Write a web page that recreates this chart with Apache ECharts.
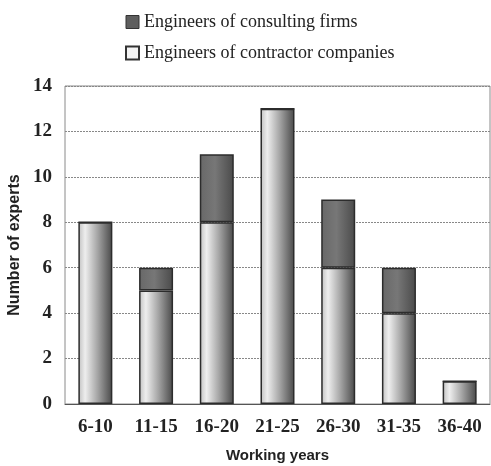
<!DOCTYPE html>
<html>
<head>
<meta charset="utf-8">
<script src="https://cdn.jsdelivr.net/npm/echarts@6/dist/echarts.min.js"></script>
<style>
  html, body { margin: 0; padding: 0; background: #fff; }
  #chart { width: 491px; height: 466px; }
</style>
</head>
<body>
<div id="chart"></div>
<script>
// Working-year groups on the x axis
const categories = ['6-10', '11-15', '16-20', '21-25', '26-30', '31-35', '36-40'];
// Number of experts in each group
const contractorValues = [8, 5, 8, 13, 6, 4, 1];
const consultingValues = [0, 1, 3, 0, 3, 2, 0];
const seriesNames = ['Engineers of consulting firms', 'Engineers of contractor companies'];
const yTicks = { min: 0, max: 14, interval: 2 };

const serif = '"Liberation Serif", "Times New Roman", serif';
const sans = '"Liberation Sans", Arial, sans-serif';

const lightFill = new echarts.graphic.LinearGradient(0, 0, 1, 0, [
  { offset: 0, color: '#c0c0c0' },
  { offset: 0.2, color: '#eeeeee' },
  { offset: 0.55, color: '#a8a8a8' },
  { offset: 1, color: '#484848' }
]);
const darkFill = new echarts.graphic.LinearGradient(0, 0, 1, 0, [
  { offset: 0, color: '#686868' },
  { offset: 0.45, color: '#777777' },
  { offset: 1, color: '#4a4a4a' }
]);

const chart = echarts.init(document.getElementById('chart'), null, { renderer: 'canvas' });
chart.setOption({
  animation: false,
  backgroundColor: '#ffffff',
  legend: {
    orient: 'vertical',
    left: 120,
    top: 8,
    itemWidth: 13,
    itemHeight: 13,
    itemGap: 13,
    textStyle: { fontFamily: serif, fontSize: 18, color: '#222' },
    data: [
      { name: seriesNames[0], icon: 'rect', itemStyle: { color: '#5e5e5e', borderColor: '#333', borderWidth: 1 } },
      { name: seriesNames[1], icon: 'rect', itemStyle: { color: '#f4f4f4', borderColor: '#333', borderWidth: 2 } }
    ]
  },
  grid: {
    left: 65, right: 1, top: 86, bottom: 62,
    outerBoundsMode: 'none',
    containLabel: false,
    show: true, borderColor: '#8a8a8a', borderWidth: 1
  },
  xAxis: {
    type: 'category',
    data: categories,
    name: 'Working years',
    nameLocation: 'middle',
    nameGap: 44,
    nameTextStyle: { fontFamily: sans, fontSize: 15, fontWeight: 'bold', color: '#222' },
    axisLine: { show: true, lineStyle: { color: '#555', width: 1 } },
    axisTick: { show: false },
    axisLabel: { fontFamily: serif, fontSize: 19, fontWeight: 'bold', color: '#222', margin: 14 }
  },
  yAxis: {
    type: 'value',
    min: yTicks.min, max: yTicks.max, interval: yTicks.interval,
    name: 'Number of experts',
    nameLocation: 'middle',
    nameGap: 35,
    nameTextStyle: { fontFamily: sans, fontSize: 16, fontWeight: 'bold', color: '#222' },
    axisLine: { show: false },
    axisTick: { show: false },
    axisLabel: { fontFamily: serif, fontSize: 19, fontWeight: 'bold', color: '#222', margin: 13 },
    splitLine: { show: true, lineStyle: { color: '#888', type: [2, 1], width: 1 } }
  },
  series: [
    {
      name: seriesNames[1],
      type: 'bar',
      stack: 'experts',
      barWidth: '56%',
      data: contractorValues,
      itemStyle: { color: lightFill, borderColor: '#2c2c2c', borderWidth: 1.5 }
    },
    {
      name: seriesNames[0],
      type: 'bar',
      stack: 'experts',
      barWidth: '56%',
      data: consultingValues,
      itemStyle: { color: darkFill, borderColor: '#2c2c2c', borderWidth: 1.5 }
    }
  ]
});
</script>
</body>
</html>
